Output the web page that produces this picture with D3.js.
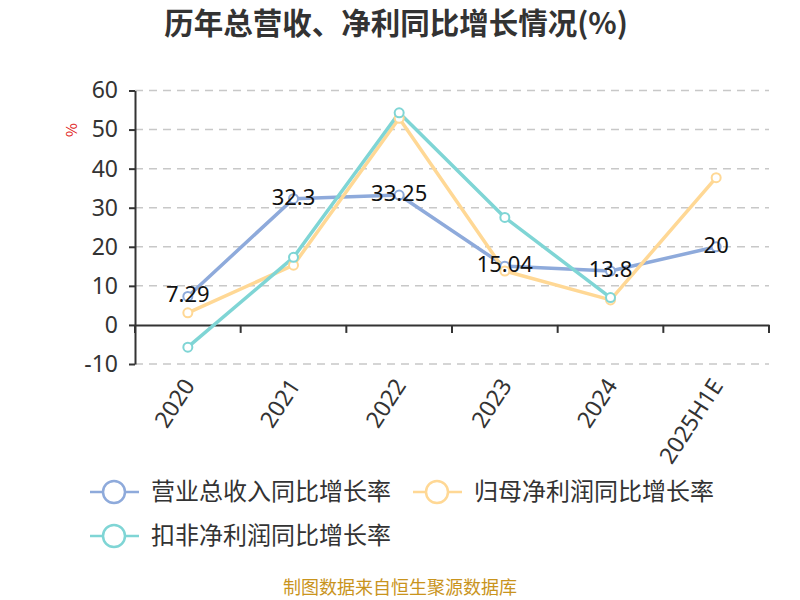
<!DOCTYPE html>
<html>
<head>
<meta charset="utf-8">
<script src="https://cdn.jsdelivr.net/npm/d3@7"></script>
<style>
  body { margin: 0; background: #fff; }
  svg { font-family: "Noto Sans CJK SC", "Noto Sans", sans-serif; }
</style>
</head>
<body>
<svg id="chart" width="800" height="600"></svg>
<script>
// 数据
var years = ["2020", "2021", "2022", "2023", "2024", "2025H1E"];
var yingshou = [7.29, 32.3, 33.25, 15.04, 13.8, 20];
var guimu = [3.1, 15.3, 52.9, 13.8, 6.4, 37.7];
var koufei = [-5.7, 17.3, 54.3, 27.5, 7.0, null];
var yTicks = [-10, 0, 10, 20, 30, 40, 50, 60];

var seriesNames = ["营业总收入同比增长率", "归母净利润同比增长率", "扣非净利润同比增长率"];
var colores = ["#8eaadb", "#ffd895", "#7fd5d5"];

var svg = d3.select("#chart");

// margenes del area de trazado
var mIzq = 135, mDer = 769, mSup = 90.5, mInf = 364;

var x = d3.scaleBand().domain(years).range([mIzq, mDer]);
var y = d3.scaleLinear().domain([-10, 60]).range([mInf, mSup]);

// titulo
svg.append("text")
  .attr("x", 396).attr("y", 34)
  .attr("text-anchor", "middle")
  .attr("font-size", 29.5).attr("font-weight", "bold")
  .attr("fill", "#333")
  .text("历年总营收、净利同比增长情况(%)");

// lineas de la rejilla
svg.append("g").selectAll("line")
  .data(yTicks.filter(function (d) { return d !== 0; }))
  .enter().append("line")
  .attr("x1", mIzq).attr("x2", mDer)
  .attr("y1", function (d) { return y(d); })
  .attr("y2", function (d) { return y(d); })
  .attr("stroke", "#c8c8c8")
  .attr("stroke-width", 1.5)
  .attr("stroke-dasharray", "8,6");

// eje y
var ejeY = svg.append("g")
  .attr("transform", "translate(" + mIzq + ",0)")
  .call(d3.axisLeft(y).tickValues(yTicks).tickSize(6).tickSizeOuter(0)
    .tickFormat(function (d) { return String(d); }));
ejeY.select(".domain").attr("stroke", "#333").attr("stroke-width", 2);
ejeY.selectAll(".tick line").attr("stroke", "#333").attr("stroke-width", 2);
ejeY.selectAll("text").attr("font-size", 23).attr("fill", "#333")
  .attr("font-family", "Noto Sans, sans-serif").attr("x", -17);

// unidad
svg.append("text")
  .attr("transform", "translate(77,130) rotate(-90)")
  .attr("text-anchor", "middle")
  .attr("font-size", 15).attr("fill", "#e02020")
  .text("%");

// eje x en cero
var ejeX = svg.append("g")
  .attr("transform", "translate(0," + y(0) + ")")
  .call(d3.axisBottom(x).tickSize(0));
ejeX.select(".domain").attr("stroke", "#333").attr("stroke-width", 2);
ejeX.selectAll("text").remove();

// marcas entre categorias
var bordes = years.map(function (d) { return x(d); }).concat([mDer]);
svg.append("g").selectAll("line")
  .data(bordes)
  .enter().append("line")
  .attr("x1", function (d) { return d; }).attr("x2", function (d) { return d; })
  .attr("y1", y(0)).attr("y2", y(0) + 8)
  .attr("stroke", "#333").attr("stroke-width", 2);

// etiquetas del eje x, rotadas
svg.append("g").selectAll("text")
  .data(years)
  .enter().append("text")
  .attr("transform", function (d) {
    return "translate(" + (x(d) + x.bandwidth() / 2 + 1) + ",381) rotate(-57)";
  })
  .attr("text-anchor", "end")
  .attr("dy", "0.35em")
  .attr("font-size", 23).attr("fill", "#333")
  .attr("font-family", "Noto Sans, sans-serif")
  .text(function (d) { return d; });

var cx = function (i) { return x(years[i]) + x.bandwidth() / 2; };
var linea = d3.line()
  .defined(function (d) { return d != null; })
  .x(function (d, i) { return cx(i); })
  .y(function (d) { return y(d); });

var todas = [yingshou, guimu, koufei];
todas.forEach(function (serie, k) {
  svg.append("path")
    .datum(serie)
    .attr("d", linea)
    .attr("fill", "none")
    .attr("stroke", colores[k])
    .attr("stroke-width", 3.5)
    .attr("stroke-linejoin", "round");
});
todas.forEach(function (serie, k) {
  svg.append("g").selectAll("circle")
    .data(serie.map(function (v, i) { return { v: v, i: i }; })
      .filter(function (d) { return d.v != null; }))
    .enter().append("circle")
    .attr("cx", function (d) { return cx(d.i); })
    .attr("cy", function (d) { return y(d.v); })
    .attr("r", 4.5)
    .attr("fill", "#fff")
    .attr("stroke", colores[k])
    .attr("stroke-width", 2);
});

// etiquetas de valores (solo ingresos)
svg.append("g").selectAll("text")
  .data(yingshou)
  .enter().append("text")
  .attr("x", function (d, i) { return cx(i); })
  .attr("y", function (d) { return y(d) + 6; })
  .attr("text-anchor", "middle")
  .attr("font-size", 22).attr("fill", "#111")
  .attr("font-family", "Noto Sans, sans-serif")
  .text(function (d) { return d; });

// leyenda
var posLeyenda = [[90, 492], [413, 492], [90, 536]];
seriesNames.forEach(function (n, k) {
  var g = svg.append("g")
    .attr("transform", "translate(" + posLeyenda[k][0] + "," + posLeyenda[k][1] + ")");
  g.append("line").attr("x1", 0).attr("x2", 49).attr("y1", 0).attr("y2", 0)
    .attr("stroke", colores[k]).attr("stroke-width", 2.5);
  g.append("circle").attr("cx", 24).attr("cy", 0).attr("r", 11)
    .attr("fill", "#fff").attr("stroke", colores[k]).attr("stroke-width", 2.5);
  g.append("text").attr("x", 61).attr("y", 8)
    .attr("font-size", 24).attr("fill", "#333")
    .text(n);
});

// fuente
svg.append("text")
  .attr("x", 400).attr("y", 594)
  .attr("text-anchor", "middle")
  .attr("font-size", 18).attr("fill", "#c9941d")
  .text("制图数据来自恒生聚源数据库");
</script>
</body>
</html>
